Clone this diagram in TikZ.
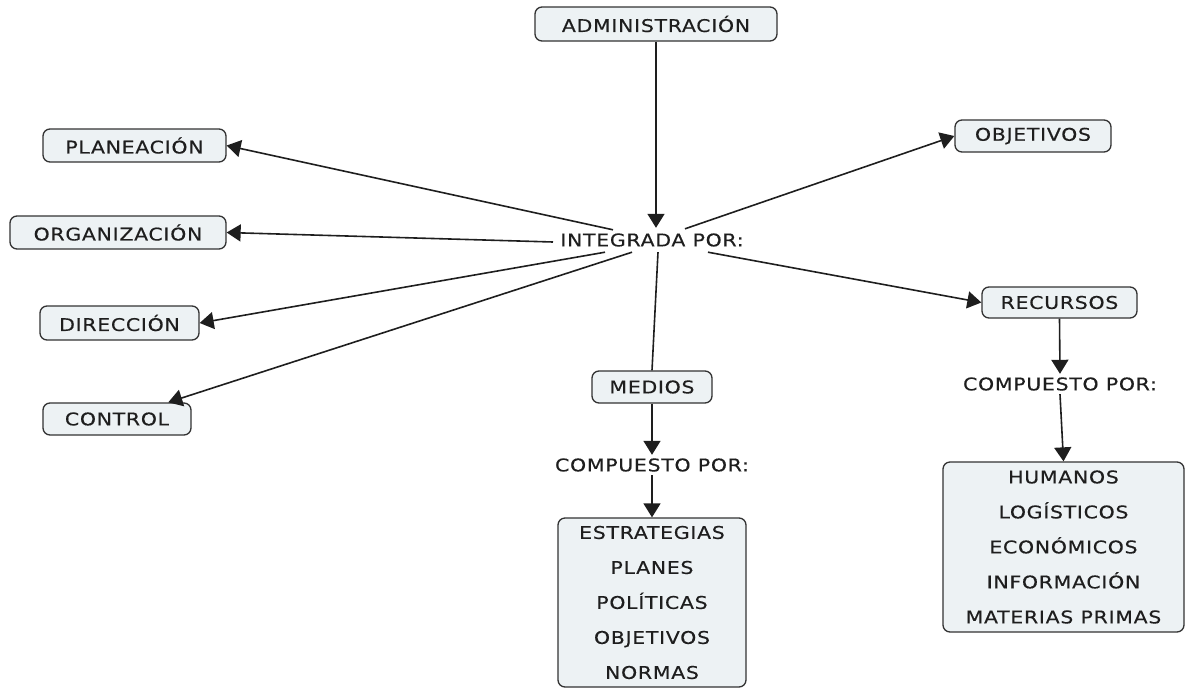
\documentclass[tikz,border=0pt]{standalone}
\usepackage{fontspec}
\setmainfont{DejaVu Sans}[FakeStretch=1.17,LetterSpace=4,FakeBold=0.3]
\usetikzlibrary{arrows.meta,calc}
\definecolor{boxfill}{HTML}{EDF2F4}
\definecolor{ink}{HTML}{1E1E1E}
\tikzset{
  concept/.style={draw=black!80, line width=1.3pt, rounded corners=7pt,
    fill=boxfill, text=ink, inner sep=0pt, align=center,
    font=\fontsize{17.5}{35}\selectfont},
  phrase/.style={text=ink, inner sep=0pt, font=\fontsize{17.5}{20}\selectfont},
  link/.style={line width=1.6pt, draw=ink},
  arr/.style={link, -{Triangle[width=17pt,length=14pt]}}
}
\begin{document}
\begin{tikzpicture}[x=1pt,y=-1pt]
\useasboundingbox (0,0) rectangle (1187,689);

% concepts
\node[concept, minimum width=242, minimum height=34] (admin) at (656,24) {ADMINISTRACIÓN};
\node[concept, minimum width=183, minimum height=33] (plan) at (134.5,145.5) {PLANEACIÓN};
\node[concept, minimum width=216, minimum height=33] (org) at (118,232.5) {ORGANIZACIÓN};
\node[concept, minimum width=159, minimum height=34] (dir) at (119.5,323) {DIRECCIÓN};
\node[concept, minimum width=148, minimum height=32] (ctrl) at (117,419) {CONTROL};
\node[concept, minimum width=156, minimum height=32] (obj) at (1033,136) {OBJETIVOS};
\node[concept, minimum width=155, minimum height=31] (rec) at (1059.5,302.5) {RECURSOS};
\node[concept, minimum width=120, minimum height=32] (med) at (652,387) {MEDIOS};
\node[concept, minimum width=188, minimum height=169] (mbox) at (652,602.5)
  {ESTRATEGIAS\\PLANES\\POLÍTICAS\\OBJETIVOS\\NORMAS};
\node[concept, minimum width=241, minimum height=170] (rbox) at (1063.5,547)
  {HUMANOS\\LOGÍSTICOS\\ECONÓMICOS\\INFORMACIÓN\\MATERIAS PRIMAS};

% linking phrases
\node[phrase, minimum height=24] (integ) at (652,240) {INTEGRADA POR:};
\node[phrase, minimum height=20] (cp1) at (652,465) {COMPUESTO POR:};
\node[phrase, minimum height=20] (cp2) at (1060,384) {COMPUESTO POR:};

% connectors
\draw[arr] (admin.south) -- (admin.south |- integ.north);
\draw[arr] ([xshift=-39pt,yshift=-2pt]integ.north) -- (plan.east);
\draw[arr] ([xshift=-99pt,yshift=-2pt]integ.center) -- (org.east);
\draw[arr] ([xshift=-47pt]integ.south) -- (dir.east);
\draw[arr] ([xshift=-20pt]integ.south) -- (ctrl.18);
\draw[link] ([xshift=6pt]integ.south) -- (med.north);
\draw[arr] ([xshift=33pt,yshift=-1pt]integ.north) -- (obj.west);
\draw[arr] ([xshift=56pt]integ.south) -- (rec.west);
\draw[arr] (med.south) -- (cp1.north);
\draw[arr] (cp1.south) -- (mbox.north);
\draw[arr] (rec.south) -- (cp2.north);
\draw[arr] (cp2.south) -- ($(rbox.north west)!0.5!(rbox.north east)$);
\end{tikzpicture}
\end{document}
